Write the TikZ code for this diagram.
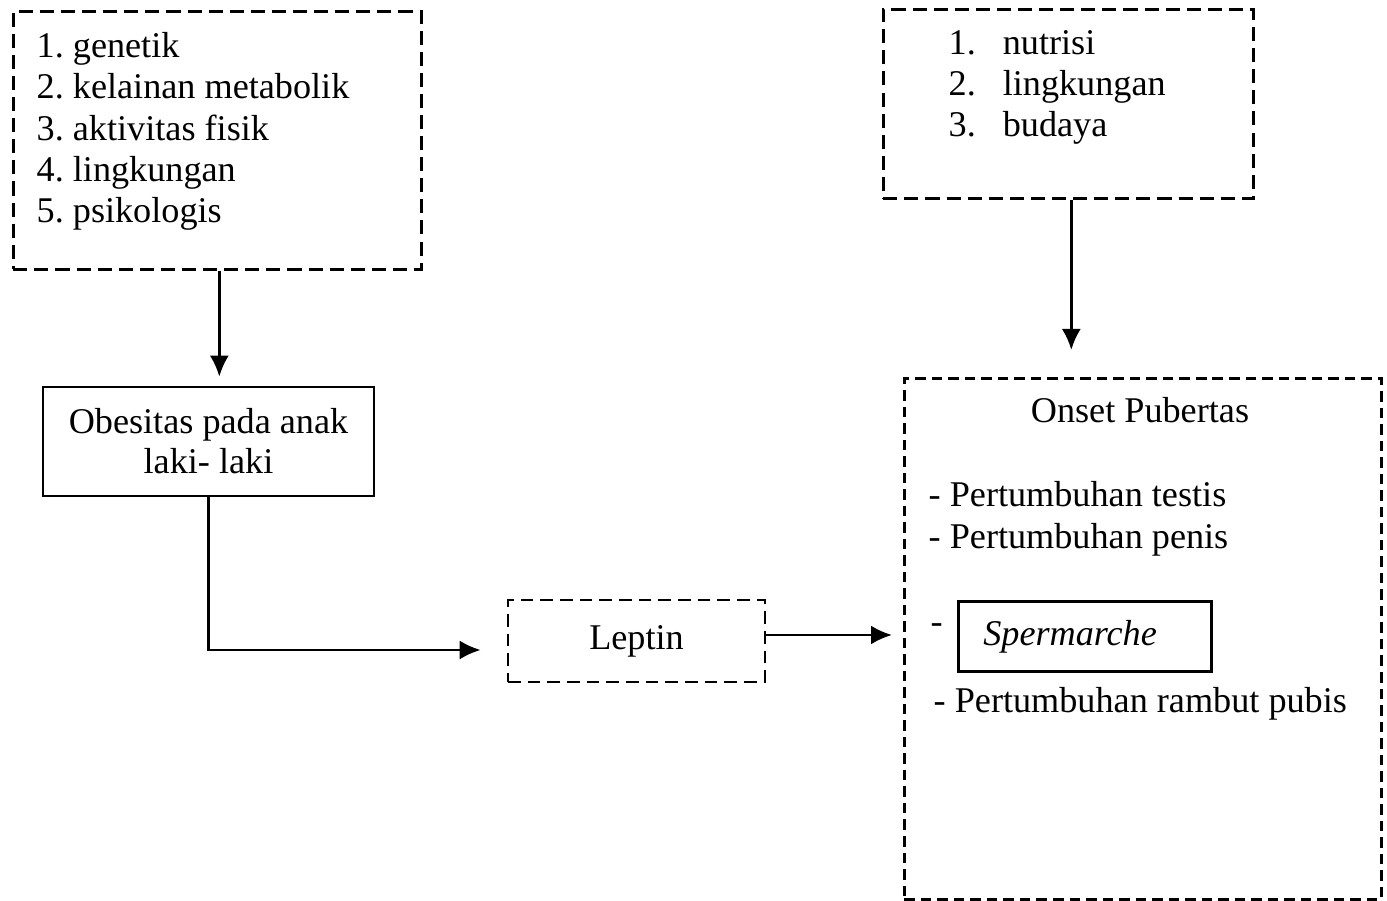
\documentclass[tikz,border=0pt]{standalone}
\usepackage{fontspec}
\setmainfont{Liberation Serif}
\usetikzlibrary{positioning, arrows.meta, calc}
\frenchspacing

\begin{document}
\begin{tikzpicture}[
    % Global Styles
    dashbox/.style={
        rectangle,
        draw=black,
        line width=0.75pt,
        dash pattern=on 4pt off 2pt,  % scanned-looking dashes
        inner sep=0pt
    },
    solidbox/.style={
        rectangle,
        draw=black,
        line width=0.75pt,
        inner sep=0pt,
        align=center,
        font=\fontsize{10.3}{11.4}\selectfont
    },
    list_text/.style={
        align=left,
        inner sep=0pt,
        font=\fontsize{10.3}{11.7}\selectfont
    },
    line_text/.style={
        inner sep=0pt,
        font=\fontsize{10.3}{11.7}\selectfont
    },
    arrow/.style={
        -{Latex[length=2.1mm,width=1.9mm]},
        line width=0.75pt
    }
]
    \useasboundingbox (0,0) rectangle (13.87,-9.01);

    % --- Placement of Nodes ---

    % Top Left (causes of obesity)
    \node[dashbox, minimum width=4.08cm, minimum height=2.58cm, anchor=north west] (faktor) at (0.12,-0.10) {};
    \node[list_text, anchor=north west] (faktor_list) at ([xshift=0.24cm, yshift=-0.22cm]faktor.north west)
        {1. genetik\\2. kelainan metabolik\\3. aktivitas fisik\\4. lingkungan\\5. psikologis};

    % Top Right (other factors)
    \node[dashbox, minimum width=3.70cm, minimum height=1.89cm, anchor=north west] (faktor_lain) at (8.82,-0.08) {};
    \node[list_text, anchor=north west] (faktor_lain_list) at ([xshift=0.66cm, yshift=-0.17cm]faktor_lain.north west)
        {\begin{tabular}{@{}l@{\hspace{0.27cm}}l@{}}1. & nutrisi\\2. & lingkungan\\3. & budaya\end{tabular}};

    % Left Column
    \node[solidbox, minimum width=3.31cm, minimum height=1.09cm] (obesitas) at (2.085,-4.415)
        {Obesitas pada anak\\laki- laki};

    % Middle
    \node[dashbox, dash pattern=on 3.6pt off 2pt, minimum width=2.57cm, minimum height=0.82cm, line_text] (leptin) at (6.365,-6.41) {Leptin};

    % Right Column (pubertal onset)
    \node[dashbox, dash pattern=on 3pt off 1.7pt, minimum width=4.77cm, minimum height=5.21cm, anchor=north west] (onset) at (9.03,-3.77) {};
    \node[line_text, anchor=base] (onset_title) at ($(onset.north west)+(2.37,-0.46)$) {Onset Pubertas};
    \node[line_text, anchor=base west] (testis) at ($(onset.north west)+(0.25,-1.30)$) {- Pertumbuhan testis};
    \node[line_text, anchor=base west] (penis) at ($(onset.north west)+(0.25,-1.72)$) {- Pertumbuhan penis};
    \node[line_text, anchor=base west] (strip) at ($(onset.north west)+(0.27,-2.57)$) {-};
    \node[solidbox, minimum width=2.53cm, minimum height=0.70cm, text width=2.03cm, inner xsep=0.25cm, align=left, anchor=north west]
        (spermarche) at ($(onset.north west)+(0.54,-2.23)$) {\itshape Spermarche};
    \node[line_text, anchor=base west] (rambut) at ($(onset.north west)+(0.30,-3.36)$) {- Pertumbuhan rambut pubis};

    % --- Connections ---

    % 1. Causes -> Obesity
    \draw[arrow, shorten >=0.09cm] ([xshift=0.02cm]faktor.south) -- ([xshift=0.02cm]faktor.south |- obesitas.north);

    % 2. Other factors -> Onset
    \draw[arrow, shorten >=0.27cm] ([xshift=0.03cm]faktor_lain.south) -- ([xshift=0.03cm]faktor_lain.south |- onset.north);

    % 3. Obesity -> Leptin (elbow)
    \draw[arrow, shorten >=0.26cm] (obesitas.south) |- ([yshift=-0.09cm]leptin.west);

    % 4. Leptin -> Onset
    \draw[arrow, shorten >=0.11cm] ([yshift=0.06cm]leptin.east) -- ([yshift=0.06cm]leptin.east -| onset.west);

\end{tikzpicture}
\end{document}
